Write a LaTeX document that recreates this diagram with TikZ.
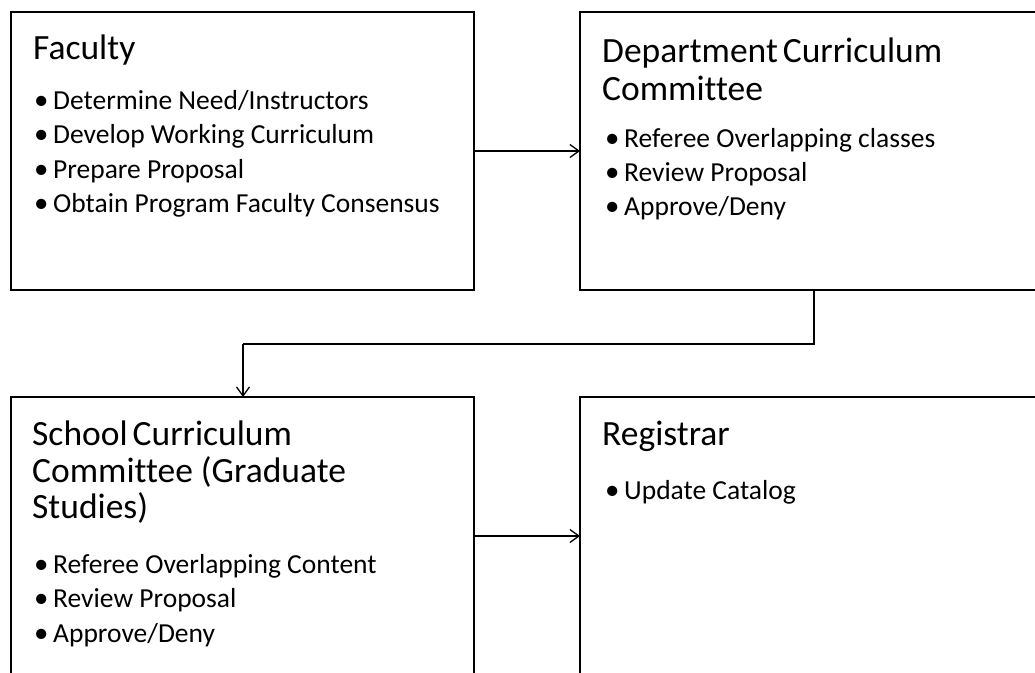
\documentclass[tikz,border=0pt]{standalone}
\usepackage{fontspec}
\setmainfont{Carlito}[Ligatures=NoCommon]
\usetikzlibrary{arrows.meta}
\newcommand\bitem[1]{\makebox[22pt][l]{\hspace{3pt}\raisebox{-0.3pt}{\scalebox{1.05}{•}}}#1}
\begin{document}
\begin{tikzpicture}[x=1pt,y=-1pt,
  box/.style={draw=black, line width=2.8pt, inner sep=0pt, outer sep=0pt,
              minimum width=463pt, minimum height=278pt},
  title/.style={anchor=base west, inner sep=0pt, font=\fontsize{35.5}{40}\selectfont},
  item/.style={anchor=base west, inner sep=0pt, font=\fontsize{27.5}{34}\selectfont},
  conn/.style={line width=1.3pt, -{Straight Barb[length=9pt,width=13pt,line width=1.3pt]}},
  link/.style={line width=1.3pt}]
\useasboundingbox (0,0) rectangle (1035,672);
\clip (0,0) rectangle (1035,672);
% boxes
\node[box] (fac) at (242.5,151) {};
\node[box, minimum width=465pt] (dept) at (812.5,151) {};
\node[box] (school) at (242.5,536) {};
\node[box, minimum width=465pt] (reg) at (812.5,536) {};
% Faculty
\node[title] (facT) at (33,59) {Faculty};
\node[item] (fac1) at (31,109) {\bitem{Determine Need/Instructors}};
\node[item] (fac2) at (31,143.5) {\bitem{Develop Working Curriculum}};
\node[item] (fac3) at (31,178) {\bitem{Prepare Proposal}};
\node[item] (fac4) at (31,212) {\bitem{Obtain Program Faculty Consensus}};
% Department
\node[title] (deptT1) at (602,62) {Department\hspace{-3pt} Curriculum};
\node[title] (deptT2) at (602,100) {Committee};
\node[item] (dept1) at (602,147) {\bitem{Referee Overlapping classes}};
\node[item] (dept2) at (602,181) {\bitem{Review Proposal}};
\node[item] (dept3) at (602,215) {\bitem{Approve/Deny}};
% School
\node[title] (schT1) at (32,445) {School\hspace{-3pt} Curriculum};
\node[title] (schT2) at (32,482) {Committee (Graduate};
\node[title] (schT3) at (32,518) {Studies)};
\node[item] (sch1) at (31,573) {\bitem{Referee Overlapping Content}};
\node[item] (sch2) at (31,607) {\bitem{Review Proposal}};
\node[item] (sch3) at (31,642) {\bitem{Approve/Deny}};
% Registrar
\node[title] (regT) at (602,445) {Registrar};
\node[item] (reg1) at (602,499) {\bitem{Update Catalog}};
% connectors
\draw[conn] (fac) -- (dept);
\draw[conn] (school) -- (reg);
\coordinate (b1) at (814,344);
\coordinate (b2) at (243,344);
\draw[link] (b1 |- dept.south) -- (b1) -- (b2);
\draw[conn] (b2) -- (b2 |- school.north);
\end{tikzpicture}
\end{document}
